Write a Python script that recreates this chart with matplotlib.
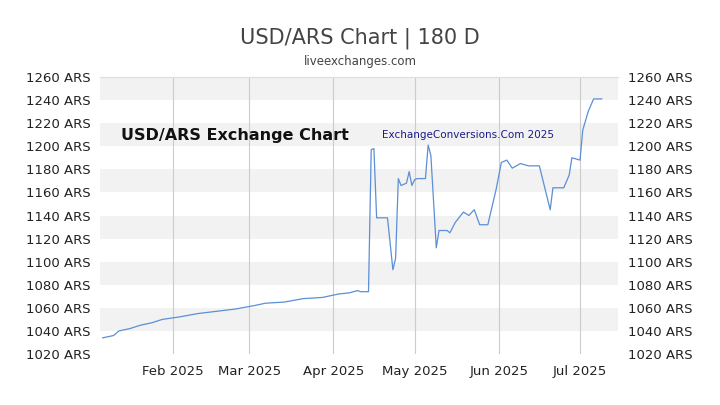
import matplotlib
matplotlib.use("Agg")
import matplotlib.pyplot as plt
import numpy as np

dates = ["2025-01-06","2025-01-10","2025-01-12","2025-01-16","2025-01-20","2025-01-24","2025-01-28",
"2025-02-03","2025-02-10","2025-02-17","2025-02-24","2025-03-03","2025-03-07","2025-03-14","2025-03-21",
"2025-03-28","2025-04-03","2025-04-07","2025-04-10","2025-04-11","2025-04-14","2025-04-15","2025-04-16",
"2025-04-17","2025-04-21","2025-04-23","2025-04-24","2025-04-25","2025-04-26","2025-04-28","2025-04-29",
"2025-04-30","2025-05-01","2025-05-02","2025-05-05","2025-05-06","2025-05-07","2025-05-09","2025-05-10",
"2025-05-13","2025-05-14","2025-05-16","2025-05-19","2025-05-21","2025-05-23","2025-05-25","2025-05-28",
"2025-05-31","2025-06-02","2025-06-04","2025-06-06","2025-06-09","2025-06-12","2025-06-16","2025-06-20",
"2025-06-21","2025-06-25","2025-06-27","2025-06-28","2025-07-01","2025-07-02","2025-07-04","2025-07-06","2025-07-09"]
rates = [1034,1036,1040,1042,1045,1047,1050,1052,1055,1057,1059,1062,1064,1065,1068,1069,1072,1073,1075,1074,
1074,1197,1198,1138,1138,1093,1103,1172,1166,1168,1178,1166,1171,1172,1172,1201,1192,1112,1127,1127,1125,
1134,1143,1140,1145,1132,1132,1162,1186,1188,1181,1185,1183,1183,1145,1164,1164,1175,1190,1188,1214,1230,1241,1241]
yticks = list(range(1020, 1261, 20))
xtick_dates = ["2025-02-01","2025-03-01","2025-04-01","2025-05-01","2025-06-01","2025-07-01"]
xtick_labels = ["Feb 2025","Mar 2025","Apr 2025","May 2025","Jun 2025","Jul 2025"]

x = np.array(dates, dtype="datetime64[D]")
fig = plt.figure(figsize=(7.2, 4.05), dpi=100)
ax = fig.add_axes([100/720, 1-354/405, 518/720, 277/405])
for lo in range(1040, 1260, 40):
    ax.axhspan(lo, lo+20, color="#f2f2f2", zorder=0, lw=0)
xt = np.array(xtick_dates, dtype="datetime64[D]")
for d in xt:
    ax.axvline(d, color="#cccccc", lw=0.8, zorder=1)
ax.plot(x, rates, color="#5b8fd6", lw=0.9, zorder=3)
ax.set_xlim(np.datetime64("2025-01-05"), np.datetime64("2025-07-15"))
ax.set_ylim(1020, 1260)
ax.set_xticks(xt)
ax.set_xticklabels(xtick_labels)
ax.set_yticks(yticks)
ax.set_yticklabels([f"{v} ARS" for v in yticks])
ax.tick_params(axis="y", which="both", left=False, right=False, labelright=True, labelsize=9.5, colors="#222222")
ax.tick_params(axis="x", length=0, labelsize=9.5, colors="#222222", pad=8)
for s in ax.spines.values():
    s.set_visible(False)
ax.spines["top"].set_visible(True); ax.spines["top"].set_color("#dddddd")
fig.text(0.5, 1-38/405, "USD/ARS Chart | 180 D", ha="center", va="center", fontsize=15, color="#444444")
fig.text(0.5, 1-62/405, "liveexchanges.com", ha="center", va="center", fontsize=8.5, color="#444444")
ax.text(0.04, 0.79, "USD/ARS Exchange Chart", transform=ax.transAxes, fontsize=11.5, fontweight="bold",
        color="#111111", va="center")
ax.text(0.545, 0.79, "ExchangeConversions.Com 2025", transform=ax.transAxes, fontsize=7.5,
        color="#1a1a8c", va="center")
fig.savefig("out.png", dpi=100)
